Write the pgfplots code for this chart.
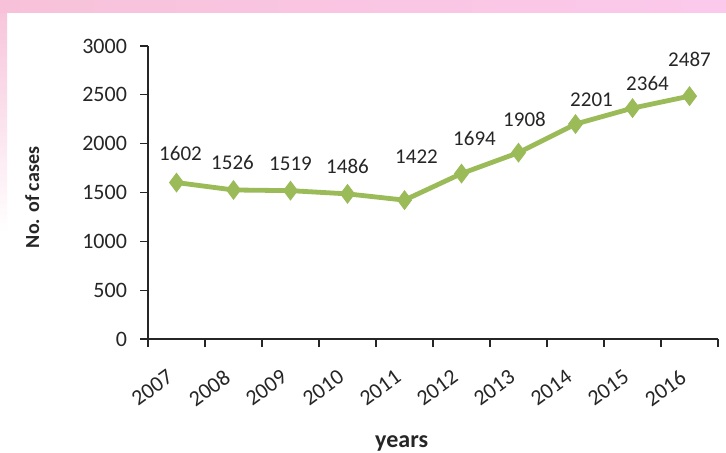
\documentclass[border=0pt]{standalone}
\usepackage{pgfplots}
\pgfplotsset{compat=1.18}
\usepackage{fontspec}
\setmainfont{Carlito}
\definecolor{linegreen}{HTML}{9BBB59}
\definecolor{pinkbg}{HTML}{F7C2D9}
\definecolor{txt}{HTML}{262626}
\begin{document}
\begin{tikzpicture}
\clip (0,0) rectangle (363pt,226pt);
\fill[white] (0,0) rectangle (363pt,226pt);
\shade[top color=pinkbg, bottom color=white] (0,110pt) rectangle (3.5pt,226pt);
\shade[left color=pinkbg, right color=pinkbg!85!magenta!60] (0,220pt) rectangle (363pt,226pt);
\begin{axis}[
  at={(74pt,56.5pt)}, anchor=south west,
  scale only axis, width=285pt, height=146.5pt,
  xmin=-0.5, xmax=9.5, ymin=0, ymax=3000,
  axis lines=left, axis line style={-, line width=0.6pt, black!85},
  xtick={-0.5,0.5,...,9.5}, xticklabels={},
  extra x ticks={0,1,2,3,4,5,6,7,8,9},
  extra x tick labels={2007,2008,2009,2010,2011,2012,2013,2014,2015,2016},
  extra x tick style={major tick length=0pt},
  ytick={0,500,...,3000},
  tick align=outside, major tick length=4pt,
  tick style={line width=0.6pt, black!85},
  /pgf/number format/assume math mode=true,
  /pgf/number format/1000 sep={},
  ticklabel style={font=\fontsize{11}{13}\selectfont, text=txt},
  yticklabel style={xshift=-3pt},
  xticklabel style={xshift=-4.5pt, yshift=-10pt, rotate=36, anchor=north east},
  clip=false,
  point meta=explicit symbolic,
  nodes near coords,
  visualization depends on={\thisrow{dx}\as\dx},
  visualization depends on={\thisrow{dy}\as\dy},
  nodes near coords style={anchor=center, xshift=\dx pt, yshift=\dy pt,
     font=\fontsize{10.5}{12}\selectfont, text=txt},
]
\addplot[color=linegreen, line width=2.4pt, mark=diamond*,
  mark size=4.6pt, mark options={fill=linegreen, draw=linegreen, line width=0.5pt}]
  table[x=x, y=y, meta=lbl] {
x y lbl dx dy
0 1602 1602 2 14.5
1 1526 1526 -0.5 13.5
2 1519 1519 0 13.5
3 1486 1486 0 13.5
4 1422 1422 6 21.5
5 1694 1694 6.5 17.5
6 1908 1908 3 16.5
7 2201 2201 8 12
8 2364 2364 7.5 12.5
9 2487 2487 0 18.5
};
\node[rotate=90, anchor=center, font=\bfseries\fontsize{10}{12}\selectfont, text=txt]
  at (axis description cs:-0.203,0.483) {No. of cases};
\node[anchor=base, font=\bfseries\fontsize{12}{14}\selectfont, text=txt]
  at (axis description cs:0.445,-0.369) {years};
\end{axis}
\end{tikzpicture}
\end{document}
